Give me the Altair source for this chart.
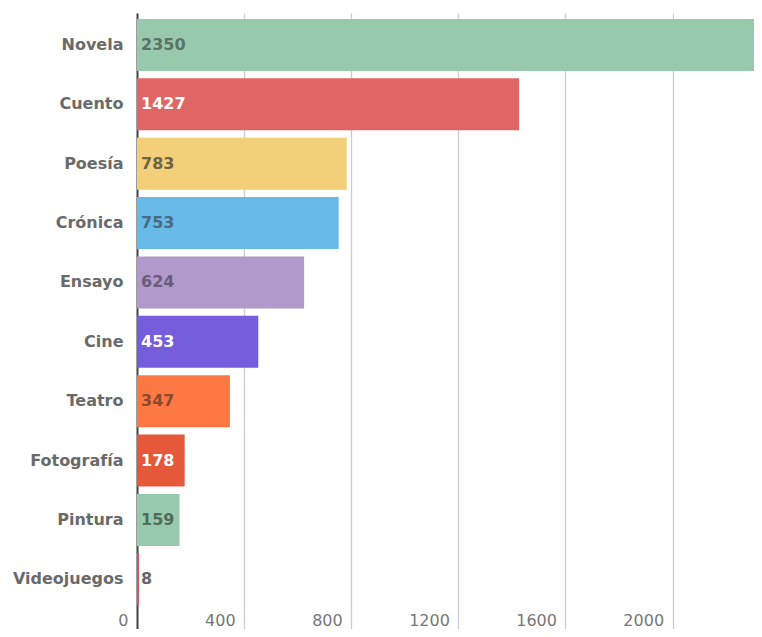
import altair as alt
import pandas as pd

categories = ["Novela", "Cuento", "Poesía", "Crónica", "Ensayo", "Cine",
              "Teatro", "Fotografía", "Pintura", "Videojuegos"]
values = [2350, 1427, 783, 753, 624, 453, 347, 178, 159, 8]
bar_colors = ["#99c9ad", "#e06666", "#f2cf78", "#67b9e8", "#b19acb",
              "#765ddb", "#fd7843", "#e5583a", "#99c9ad", "#c85a66"]
text_colors = ["#5a7364", "#ffffff", "#6e6343", "#4a6a80", "#6a5c7c",
               "#ffffff", "#8a4a2c", "#ffffff", "#4f6c5c", "#666666"]
x_ticks = [0, 400, 800, 1200, 1600, 2000]

df = pd.DataFrame({
    "cat": categories,
    "val": values,
    "color": bar_colors,
    "tcolor": text_colors,
})

FONT = "DejaVu Sans"

y_enc = alt.Y(
    "cat:N",
    sort=categories,
    title=None,
    scale=alt.Scale(paddingInner=0.125, paddingOuter=0.25, align=0.2),
    axis=alt.Axis(
        domain=True, domainColor="#444444", domainWidth=2,
        ticks=False, labelPadding=14, labelFontSize=16, labelFont=FONT,
        labelFontWeight="bold", labelColor="#6a6a6a", grid=False,
    ),
)

x_enc = alt.X(
    "val:Q",
    title=None,
    scale=alt.Scale(domain=[0, 2304], nice=False, zero=True),
    axis=alt.Axis(
        values=x_ticks, format="d", domain=False, ticks=False, grid=True,
        gridColor="#cccccc", gridWidth=1.3,
        labelAlign="right", labelOffset=-9, labelPadding=-9,
        labelBaseline="middle", labelFontSize=16, labelFont=FONT,
        labelColor="#777777", labelFlush=False, labelOverlap=False,
    ),
)

bars = alt.Chart(df).mark_bar(clip=True).encode(
    x=x_enc,
    y=y_enc,
    color=alt.Color("color:N", scale=None, legend=None),
)

labels = alt.Chart(df).mark_text(
    align="left", baseline="middle", dx=4, fontSize=16, font=FONT,
    fontWeight="bold",
).encode(
    x=alt.datum(0),
    y=alt.Y("cat:N", sort=categories),
    text=alt.Text("val:Q", format="d"),
    color=alt.Color("tcolor:N", scale=None, legend=None),
)

chart = alt.layer(bars, labels).properties(
    width=617,
    height=616,
    padding={"left": 129, "top": 5, "right": 0, "bottom": 0},
    autosize=alt.AutoSizeParams(type="none"),
).configure_view(stroke=None)

chart.save("out.html", embed_options={"renderer": "svg", "actions": False})
